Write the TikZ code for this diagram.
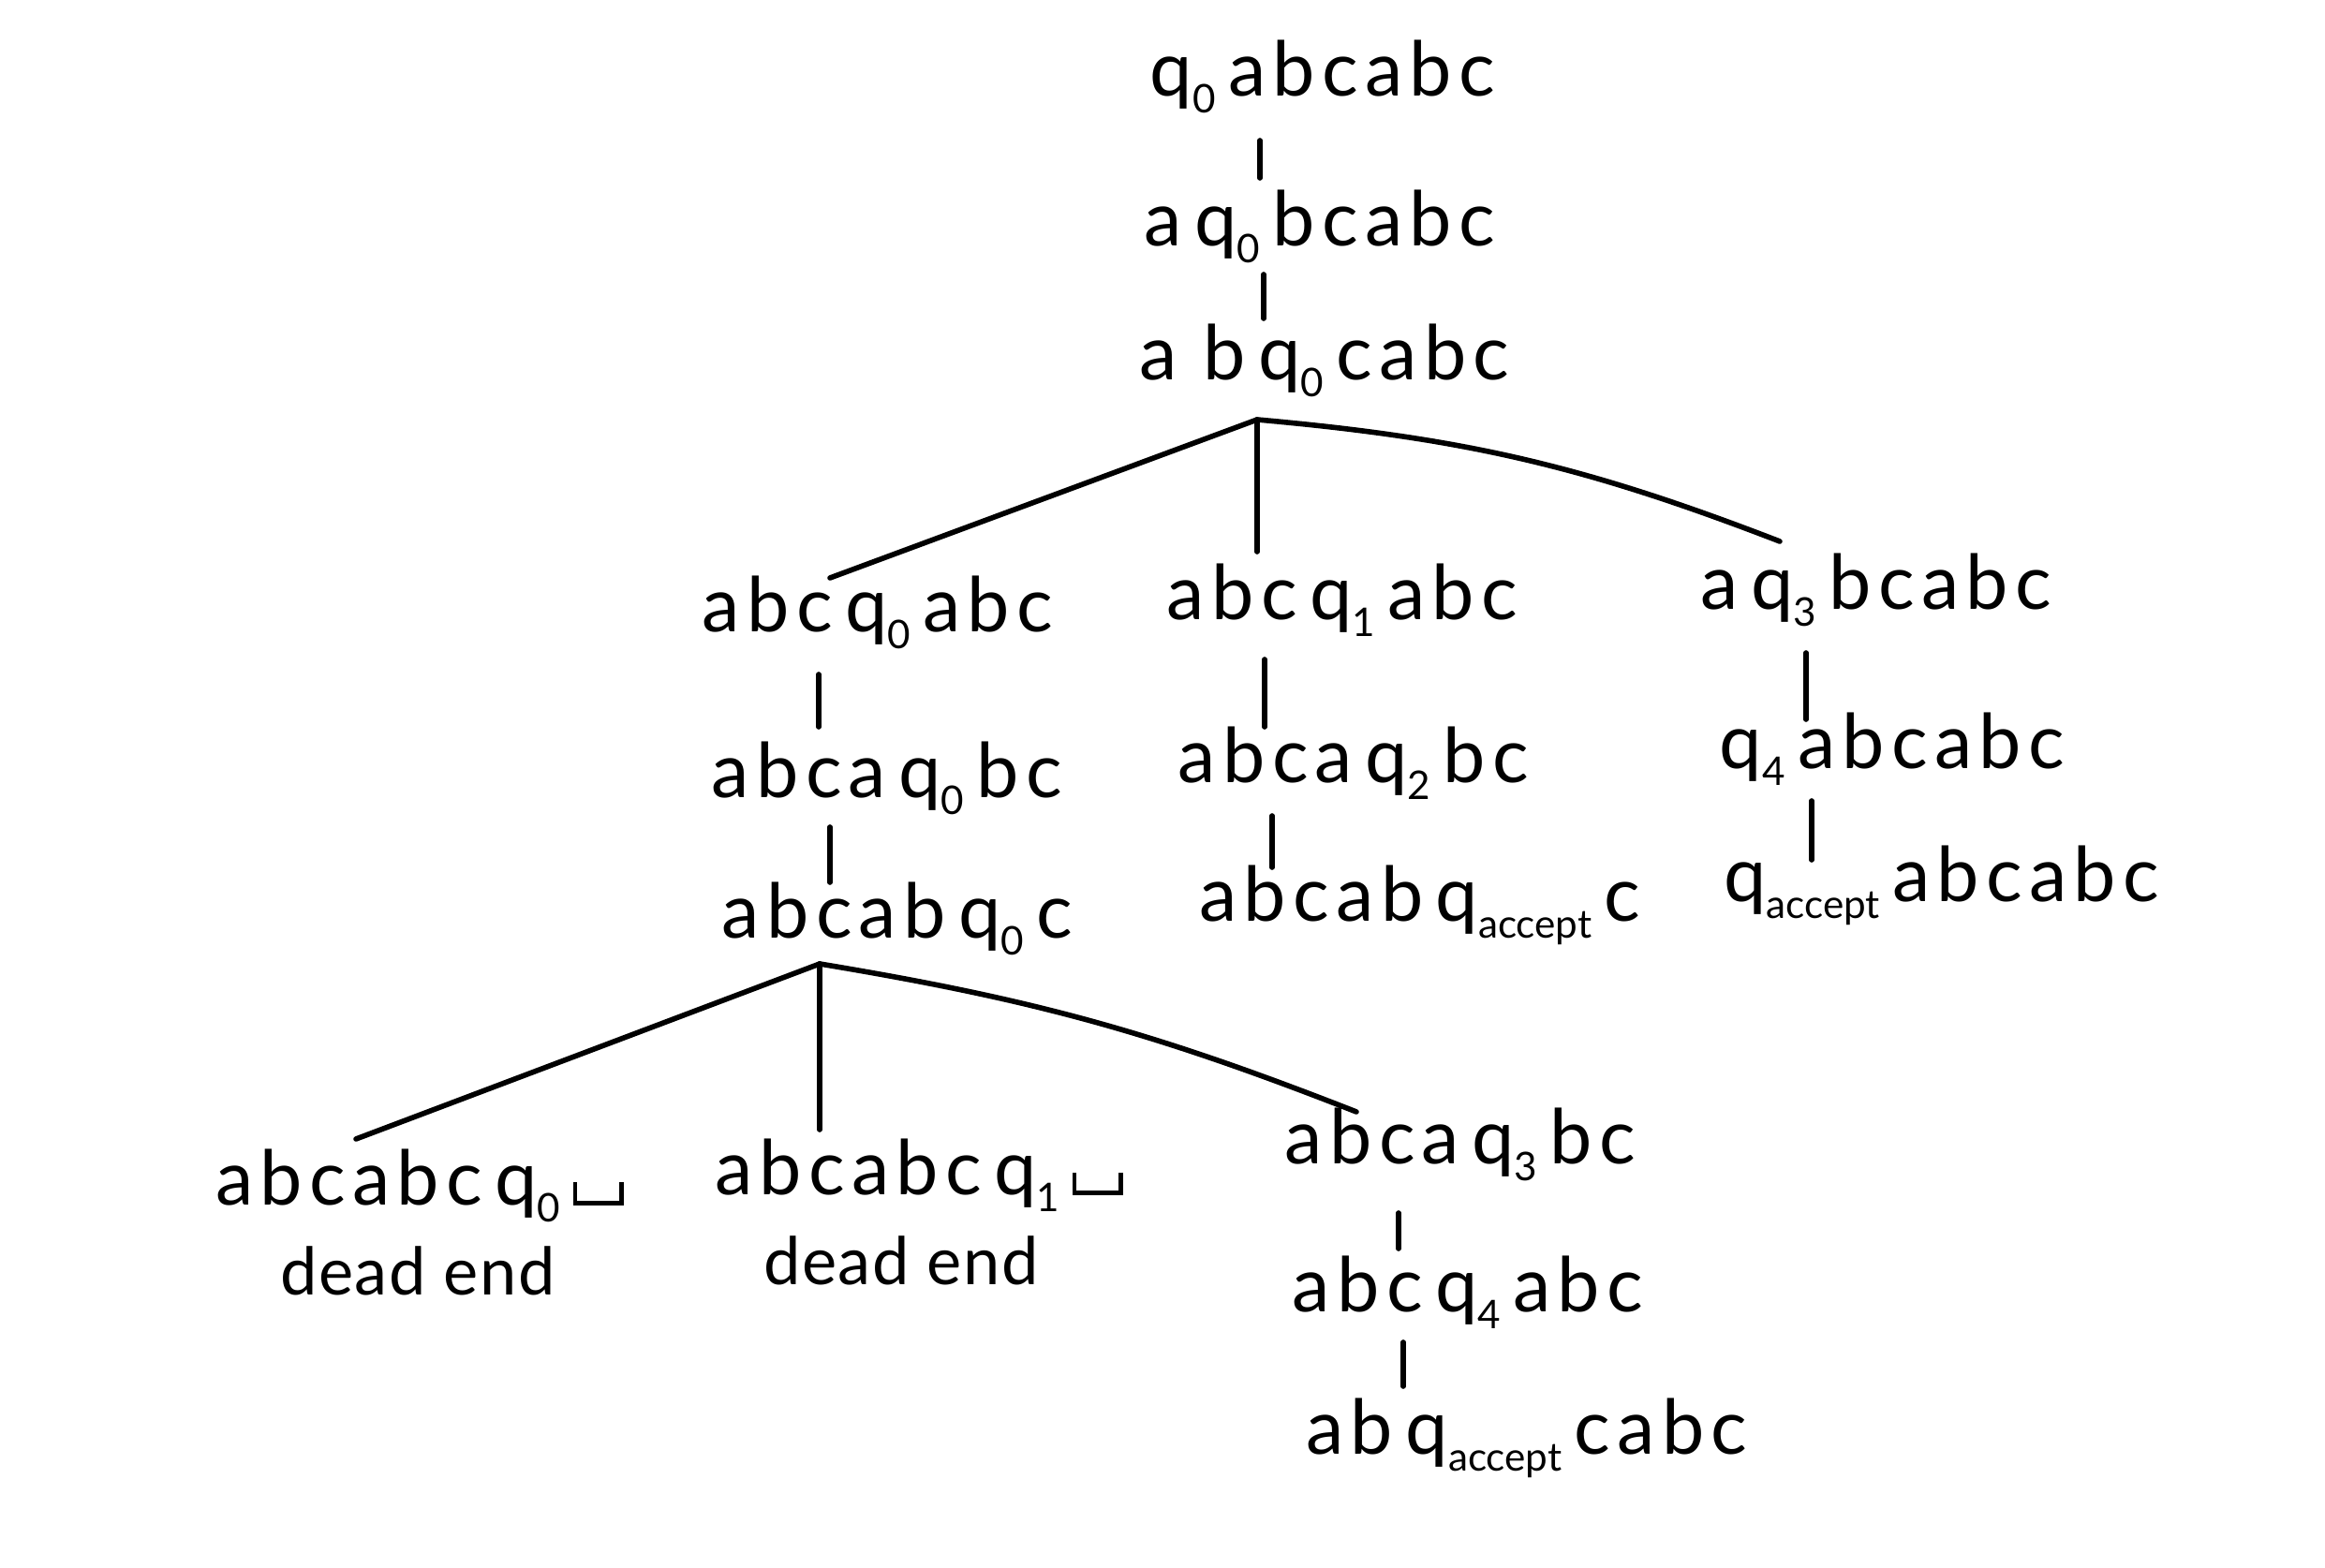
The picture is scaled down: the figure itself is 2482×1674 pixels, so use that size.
\documentclass[tikz,border=0pt]{standalone}
\usepackage{fontspec}
\usetikzlibrary{calc}
\setmainfont{Lato}[LetterSpace=9]
\newcommand{\qq}[1]{\,q\raisebox{-0.22em}{\fontsize{12}{12}\selectfont\addfontfeature{LetterSpace=0}#1}\,}
\newcommand{\blanksym}{\rule{0.06em}{0.3em}\rule{0.55em}{0.06em}\rule{0.06em}{0.3em}}
\begin{document}
\begin{tikzpicture}[x=0.01cm,y=-0.01cm,
  cfg/.style={inner sep=0pt, font=\fontsize{23}{27}\selectfont},
  note/.style={inner sep=0pt, font=\fontsize{20}{24}\selectfont\addfontfeature{LetterSpace=2}},
  edge/.style={line width=1.6pt, line cap=round}]
\useasboundingbox[fill=white] (0,0) rectangle (2482,1674);
% nodes
\node[cfg] (r0) at (1405,82) {\qq0abcabc};
\node[cfg] (r1) at (1409,242) {a\qq0bcabc};
\node[cfg] (r2) at (1414,385) {a b\qq0cabc};
\node[cfg] (L1) at (937,654) {abc\qq0abc};
\node[cfg] (M1) at (1433,641) {abc\qq1abc};
\node[cfg] (R1) at (2003,630) {a\qq3bcabc};
\node[cfg] (L2) at (947,831) {abca\qq0bc};
\node[cfg] (M2) at (1445,815) {abca\qq2bc};
\node[cfg] (R2) at (2013,800) {\qq4abcabc};
\node[cfg] (L3) at (958,981) {abcab\qq0c};
\node[cfg] (M3) at (1516,966) {abcab\qq{accept}c};
\node[cfg] (R3) at (2066,945) {\qq{accept}abcabc};
\node[cfg] (D1) at (448,1266) {abcabc\qq0\blanksym};
\node[note] (D1e) at (446,1357) {dead end};
\node[cfg] (D2) at (981,1255) {abcabc\qq1\blanksym};
\node[note] (D2e) at (962,1346) {dead end};
\node[cfg] (E1) at (1559,1222) {abca\qq3bc};
\node[cfg] (E2) at (1567,1380) {abc\qq4abc};
\node[cfg] (E3) at (1630,1535) {ab\qq{accept}cabc};
% branch points
\coordinate (br1) at (1342,448);
\coordinate (br2) at (875,1029);
% connectors
\draw[edge] ($(r0)+(-60,68)$) -- ($(r1)+(-64,-52)$);
\draw[edge] ($(r1)+(-60,51)$) -- ($(r2)+(-65,-45)$);
\draw[edge] (br1) -- ($(L1)+(-51,-37)$);
\draw[edge] (br1) -- ($(M1)+(-91,-52)$);
\draw[edge] (br1) to[bend left=8] ($(R1)+(-103,-52)$);
\draw[edge] ($(L1)+(-63,66)$) -- ($(L2)+(-73,-55)$);
\draw[edge] ($(L2)+(-61,52)$) -- ($(L3)+(-72,-39)$);
\draw[edge] ($(M1)+(-83,63)$) -- ($(M2)+(-95,-39)$);
\draw[edge] ($(M2)+(-87,56)$) -- ($(M3)+(-158,-40)$);
\draw[edge] ($(R1)+(-75,67)$) -- ($(R2)+(-85,-32)$);
\draw[edge] ($(R2)+(-79,55)$) -- ($(R3)+(-132,-27)$);
\draw[edge] (br2) -- ($(D1)+(-68,-50)$);
\draw[edge] (br2) -- ($(D2)+(-106,-49)$);
\draw[edge] (br2) to[bend left=6] ($(E1)+(-111,-35)$);
\draw[edge] ($(E1)+(-66,73)$) -- ($(E2)+(-74,-47)$);
\draw[edge] ($(E2)+(-69,53)$) -- ($(E3)+(-132,-55)$);
\end{tikzpicture}
\end{document}
